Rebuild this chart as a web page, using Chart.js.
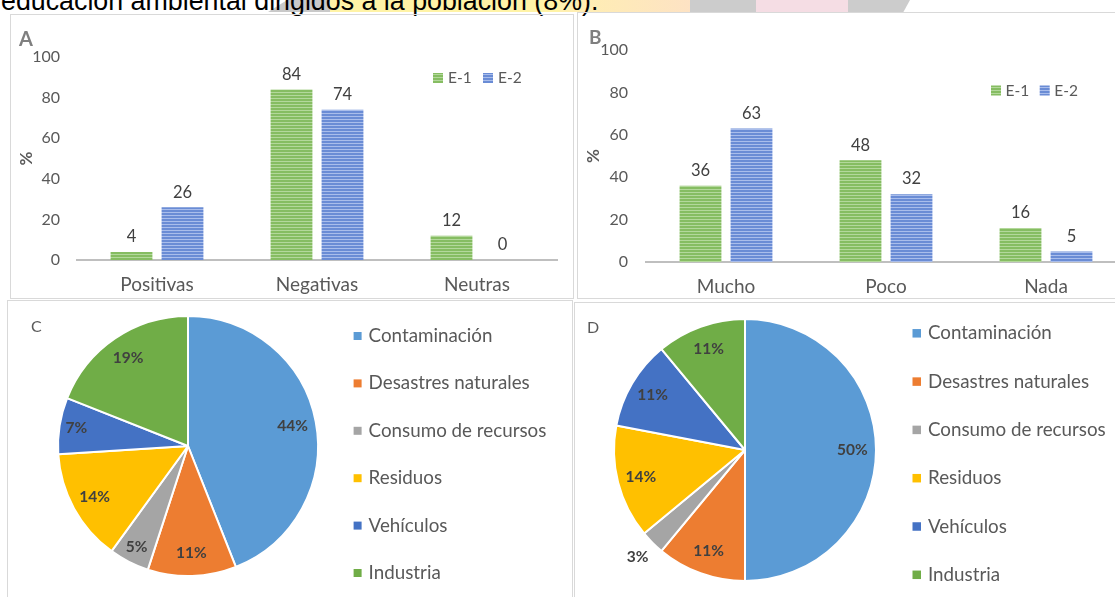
<!DOCTYPE html>
<html lang="es">
<head>
<meta charset="utf-8">
<script src="https://cdn.jsdelivr.net/npm/chart.js@4.4.1/dist/chart.umd.min.js"></script>
<style>
    html, body { margin: 0; padding: 0; background: #fff; width: 1115px; height: 597px; overflow: hidden; }
    body { position: relative; font-family: Lato, sans-serif; }
    .panel { position: absolute; overflow: hidden; }
    .panel > div.box { position: absolute; left: 0; top: 0; width: 100%; height: 100%; }
    .frame { position: absolute; inset: 0; box-sizing: border-box; border: 1px solid #d9d9d9; pointer-events: none; }
    .tag { position: absolute; line-height: 1; white-space: nowrap; }
    .hl { position: absolute; top: 0; height: 12px; }
    #caption { position: absolute; left: 1px; top: -12.5px; font: 26.8px/1 "Liberation Sans", Arial, sans-serif; color: #000; white-space: nowrap; }
</style>
</head>
<body>

<!-- trozos de la imagen superior que asoman detrás del texto -->
<div class="hl" style="left:268px;width:64px;background:#c9c9c9;clip-path:polygon(30% 0,100% 0,100% 100%,0 100%)"></div>
<div class="hl" style="left:330px;width:232px;background:#fff3a6"></div>
<div class="hl" style="left:560px;width:132px;background:linear-gradient(90deg,#fff0b0,#fde2c4)"></div>
<div class="hl" style="left:690px;width:220px;background:#cccccc;clip-path:polygon(0 0,100% 0,97% 100%,0 100%)"></div>
<div class="hl" style="left:756px;width:92px;background:#f5dde4"></div>
<div id="caption">educación ambiental dirigidos a la población (8%).</div>

<div class="panel" style="left:10px;top:14px;width:564px;height:285px">
    <div class="box"><canvas id="chartA"></canvas></div>
    <div class="frame"></div>
</div>
<div class="panel" style="left:577px;top:12px;width:566px;height:287px">
    <div class="box"><canvas id="chartB"></canvas></div>
    <div class="frame"></div>
</div>
<div class="panel" style="left:7px;top:300px;width:566px;height:297px">
    <div class="box"><canvas id="chartC"></canvas></div>
    <div class="frame" style="bottom:-2px"></div>
</div>
<div class="panel" style="left:574px;top:302px;width:560px;height:295px">
    <div class="box"><canvas id="chartD"></canvas></div>
    <div class="frame" style="bottom:-2px;right:-2px"></div>
</div>

<div class="tag" style="left:19px;top:28px;font-size:20px;font-weight:700;color:#7f7f7f">A</div>
<div class="tag" style="left:589px;top:27px;font-size:19px;font-weight:700;color:#7f7f7f">B</div>
<div class="tag" style="left:31px;top:318px;font-size:16px;color:#595959">C</div>
<div class="tag" style="left:587px;top:319px;font-size:16px;color:#595959">D</div>

<script>
// ── Datos ───────────────────────────────────────────────────
const series     = ['E-1', 'E-2'];
const catsA      = ['Positivas', 'Negativas', 'Neutras'];
const e1A        = [4, 84, 12];
const e2A        = [26, 74, 0];
const catsB      = ['Mucho', 'Poco', 'Nada'];
const e1B        = [36, 48, 16];
const e2B        = [63, 32, 5];
const yTicks     = [0, 20, 40, 60, 80, 100];
const pieCats    = ['Contaminación', 'Desastres naturales', 'Consumo de recursos', 'Residuos', 'Vehículos', 'Industria'];
const pieC       = [44, 11, 5, 14, 7, 19];
const pieD       = [50, 11, 3, 14, 11, 11];
const pieColors  = ['#5b9bd5', '#ed7d31', '#a5a5a5', '#ffc000', '#4472c4', '#70ad47'];

// ── Relleno rayado de las barras ────────────────────────────
const stripes = (base, line) => {
    const c = document.createElement('canvas');
    c.width = 4; c.height = 3;
    const g = c.getContext('2d');
    g.fillStyle = base; g.fillRect(0, 0, 4, 3);
    g.fillStyle = line; g.fillRect(0, 0, 4, 1);
    return g.createPattern(c, 'repeat');
};
const greenFill = stripes('#86bd62', '#b3d89b');
const blueFill  = stripes('#6a8cd5', '#a9bdeb');

const GREY = '#595959';

// ── Etiquetas de valores ────────────────────────────────────
const valueLabels = {
    id: 'valueLabels',
    afterDatasetsDraw(chart, args, o) {
        const { ctx } = chart;
        ctx.save();
        ctx.font = o.font;
        ctx.fillStyle = o.color;
        ctx.textAlign = 'center';
        ctx.textBaseline = 'middle';
        chart.data.datasets.forEach((ds, i) => {
            const meta = chart.getDatasetMeta(i);
            const total = ds.data.reduce((a, b) => a + b, 0);
            meta.data.forEach((el, j) => {
                const v = ds.data[j];
                if (meta.type === 'bar') {
                    ctx.fillText(v, el.x, el.y - o.offset);
                } else {
                    const mid = (el.startAngle + el.endAngle) / 2;
                    const share = v / total;
                    const f = share < 0.04 ? 1.16 : share < 0.08 ? 0.87 : 0.82;
                    ctx.fillText(v + '%', el.x + Math.cos(mid) * el.outerRadius * f,
                                          el.y + Math.sin(mid) * el.outerRadius * f);
                }
            });
        });
        ctx.restore();
    }
};

// ── Leyenda con cuadritos ───────────────────────────────────
const boxLegend = {
    id: 'boxLegend',
    afterDraw(chart, args, o) {
        const { ctx } = chart;
        const ds = chart.data.datasets;
        const items = chart.config.type === 'bar'
            ? ds.map(d => ({ text: d.label, fill: d.backgroundColor }))
            : chart.data.labels.map((l, i) => ({ text: l, fill: ds[0].backgroundColor[i] }));
        ctx.save();
        ctx.font = o.font;
        ctx.textBaseline = 'middle';
        items.forEach((it, i) => {
            const x = o.x + i * o.dx, y = o.y + i * o.dy;
            ctx.fillStyle = it.fill;
            ctx.fillRect(x, y - o.box / 2, o.box, o.box);
            ctx.fillStyle = GREY;
            ctx.fillText(it.text, x + o.gap, y);
        });
        ctx.restore();
    }
};

// ── Gráfico de barras ───────────────────────────────────────
const barChart = (id, cats, e1, e2, lay) => {
    const ds = (label, data, fill) => ({
        label, data, backgroundColor: fill, borderWidth: 0,
        categoryPercentage: 0.6375, barPercentage: 0.82
    });
    return new Chart(document.getElementById(id), {
        type: 'bar',
        data: { labels: cats, datasets: [ds(series[0], e1, greenFill), ds(series[1], e2, blueFill)] },
        options: {
            responsive: true, maintainAspectRatio: false, animation: false, events: [],
            layout: { padding: { top: lay.top, right: lay.right, left: 0, bottom: 0 } },
            plugins: {
                legend: { display: false },
                tooltip: { enabled: false },
                valueLabels: { font: '16.5px Lato', color: '#404040', offset: 15 },
                boxLegend: { ...lay.legend, dy: 0, box: 10, font: '15.5px Lato' }
            },
            scales: {
                x: {
                    grid: { display: false, drawTicks: false },
                    border: { color: '#bfbfbf', width: 2 },
                    ticks: { color: GREY, font: { family: 'Lato', size: 19 }, padding: 13 },
                    afterFit: s => { s.height = lay.xh; }
                },
                y: {
                    min: 0, max: 100,
                    grid: { display: false, drawTicks: false },
                    border: { display: false },
                    ticks: { color: GREY, font: { family: 'Lato', size: 16 }, padding: lay.tp },
                    afterBuildTicks: s => { s.ticks = yTicks.map(v => ({ value: v })); },
                    title: { display: true, text: '%', color: GREY, font: { family: 'Lato', size: 17, weight: 'bold' }, padding: { top: 6, bottom: 0 } },
                    afterFit: s => { s.width = lay.yw; }
                }
            }
        },
        plugins: [valueLabels, boxLegend]
    });
};

// ── Gráfico de tarta ────────────────────────────────────────
const pieChart = (id, data, lay) => new Chart(document.getElementById(id), {
    type: 'pie',
    data: { labels: pieCats, datasets: [{ data, backgroundColor: pieColors, borderColor: '#fff', borderWidth: 2 }] },
    options: {
        responsive: true, maintainAspectRatio: false, animation: false, events: [],
        layout: { padding: lay.pad },
        plugins: {
            legend: { display: false },
            tooltip: { enabled: false },
            valueLabels: { font: 'bold 15.5px Lato', color: '#404040' },
            boxLegend: { ...lay.legend, dx: 0, font: '18.8px Lato' }
        }
    },
    plugins: [valueLabels, boxLegend]
});

barChart('chartA', catsA, e1A, e2A, {
    top: 43, right: 17, xh: 39, yw: 67, tp: 17,
    legend: { x: 423, y: 64, dx: 50, gap: 15 }
});
barChart('chartB', catsB, e1B, e2B, {
    top: 38, right: 17, xh: 37, yw: 69, tp: 18,
    legend: { x: 414, y: 78.5, dx: 48.7, gap: 14.5 }
});
pieChart('chartC', pieC, {
    pad: { left: 50, top: 15, right: 254, bottom: 20 },
    legend: { x: 346.6, y: 36, dy: 47.4, box: 8, gap: 15 }
});
pieChart('chartD', pieD, {
    pad: { left: 39, top: 16, right: 257, bottom: 15 },
    legend: { x: 338.5, y: 31.3, dy: 48.3, box: 8.5, gap: 15.5 }
});
</script>
</body>
</html>
